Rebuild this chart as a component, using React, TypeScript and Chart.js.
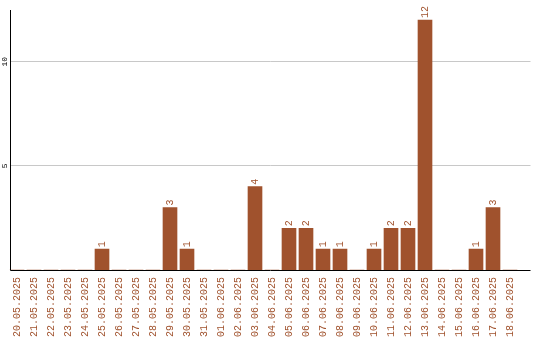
import React, { useEffect, useRef } from "react";
import { Chart, registerables } from "chart.js";

Chart.register(...registerables);

const categories = [
  "20.05.2025", "21.05.2025", "22.05.2025", "23.05.2025", "24.05.2025",
  "25.05.2025", "26.05.2025", "27.05.2025", "28.05.2025", "29.05.2025",
  "30.05.2025", "31.05.2025", "01.06.2025", "02.06.2025", "03.06.2025",
  "04.06.2025", "05.06.2025", "06.06.2025", "07.06.2025", "08.06.2025",
  "09.06.2025", "10.06.2025", "11.06.2025", "12.06.2025", "13.06.2025",
  "14.06.2025", "15.06.2025", "16.06.2025", "17.06.2025", "18.06.2025",
];
const values = [
  0, 0, 0, 0, 0, 1, 0, 0, 0, 3,
  1, 0, 0, 0, 4, 0, 2, 2, 1, 1,
  0, 1, 2, 2, 12, 0, 0, 1, 3, 0,
];
const yTickValues = [5, 10];
const yMax = 12.48;

const BAR_COLOR = "#A0522D";
const TEXT_COLOR = "#A0522D";
const GRID_COLOR = "#c8c8c8";
const MONO = "'Liberation Mono', 'DejaVu Sans Mono', monospace";

const linesPlugin = {
  id: "customLines",
  beforeDatasetsDraw(chart: any) {
    const { ctx, chartArea, scales } = chart;
    const y = scales.y;
    ctx.save();
    ctx.strokeStyle = GRID_COLOR;
    ctx.lineWidth = 1;
    for (const t of yTickValues) {
      const py = Math.floor(y.getPixelForValue(t)) + 0.5;
      ctx.beginPath();
      ctx.moveTo(chartArea.left + 1.5, py);
      ctx.lineTo(chartArea.right + 12, py);
      ctx.stroke();
    }
    ctx.restore();
  },
  afterDatasetsDraw(chart: any) {
    const { ctx, chartArea, scales } = chart;
    const y = scales.y;
    const base = Math.floor(y.getPixelForValue(0)) + 0.5;
    const ax = Math.floor(chartArea.left + 1.5) + 0.5;
    ctx.save();
    ctx.strokeStyle = "#000";
    ctx.lineWidth = 1;
    ctx.beginPath();
    ctx.moveTo(ax, chartArea.top);
    ctx.lineTo(ax, base);
    ctx.lineTo(chartArea.right + 12, base);
    ctx.stroke();

    // value labels
    const meta = chart.getDatasetMeta(0);
    ctx.fillStyle = TEXT_COLOR;
    ctx.font = `10px ${MONO}`;
    ctx.textAlign = "left";
    ctx.textBaseline = "middle";
    meta.data.forEach((bar: any, i: number) => {
      const v = values[i];
      if (!v) return;
      ctx.save();
      ctx.translate(bar.x, bar.y - 2);
      ctx.rotate(-Math.PI / 2);
      ctx.fillText(String(v), 0, 0);
      ctx.restore();
    });

    // y tick labels
    ctx.fillStyle = "#000";
    ctx.font = `8px ${MONO}`;
    ctx.textAlign = "center";
    ctx.textBaseline = "middle";
    for (const t of yTickValues) {
      const py = y.getPixelForValue(t);
      ctx.save();
      ctx.translate(4.5, py);
      ctx.rotate(-Math.PI / 2);
      ctx.fillText(String(t), 0, 0);
      ctx.restore();
    }
    ctx.restore();
  },
};

export default function App() {
  const ref = useRef<HTMLCanvasElement | null>(null);
  useEffect(() => {
    if (!ref.current) return;
    const chart = new Chart(ref.current, {
      type: "bar",
      data: {
        labels: categories,
        datasets: [
          {
            data: values,
            backgroundColor: BAR_COLOR,
            borderWidth: 0,
            barThickness: 14,
          },
        ],
      },
      options: {
        animation: false,
        responsive: false,
        layout: { padding: { top: 10, right: 21.5, left: 0, bottom: 0 } },
        plugins: { legend: { display: false }, tooltip: { enabled: false } },
        scales: {
          x: {
            offset: true,
            grid: { display: false, drawTicks: false },
            border: { display: false },
            ticks: {
              autoSkip: false,
              minRotation: 90,
              maxRotation: 90,
              color: TEXT_COLOR,
              font: { family: MONO, size: 10 },
              padding: 7,
            },
            afterFit(scale: any) {
              scale.height = 70;
            },
          },
          y: {
            min: 0,
            max: yMax,
            grid: { display: false, drawTicks: false },
            border: { display: false },
            ticks: { display: false },
            afterBuildTicks(scale: any) {
              scale.ticks = yTickValues.map((v) => ({ value: v }));
            },
            afterFit(scale: any) {
              scale.width = 8.5;
            },
          },
        },
      },
      plugins: [linesPlugin],
    });
    return () => chart.destroy();
  }, []);
  return (
    <div style={{ position: "fixed", left: 0, top: 0, width: 540, height: 340, background: "#fff" }}>
      <canvas ref={ref} width={540} height={340} />
    </div>
  );
}
